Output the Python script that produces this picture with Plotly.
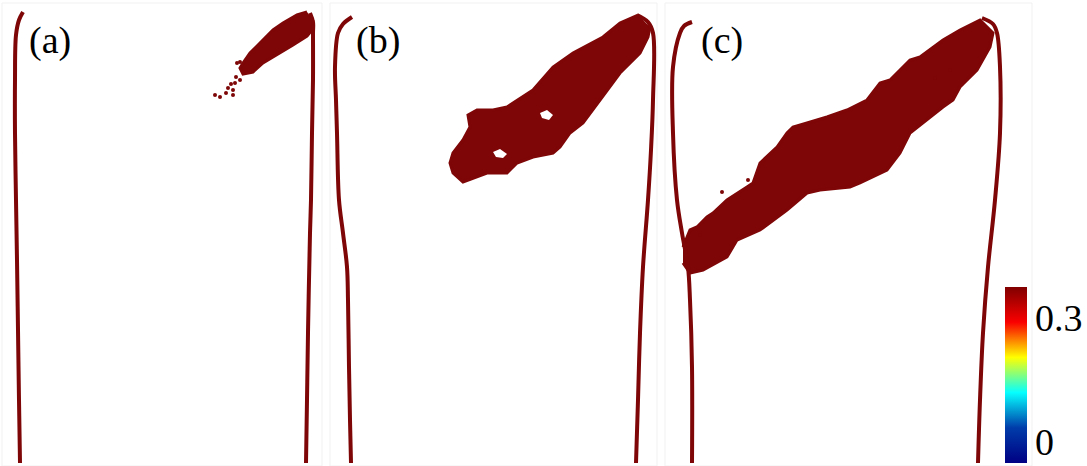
import plotly.graph_objects as go

W, H = 1087, 466
DARK = "#7e0606"

# ---- wall traces (pixel-space coordinates) ----
walls = {
    "a_left":  ([23, 19, 16, 15, 15, 16, 17, 18, 19, 20],
                [12, 20, 35, 80, 133, 200, 260, 330, 400, 463]),
    "a_right": ([310, 313, 313, 313, 312, 311, 310, 308, 307, 306],
                [13, 22, 33, 80, 133, 200, 233, 333, 400, 463]),
    "b_left":  ([352, 343, 338, 335, 336, 337, 339, 343, 347, 348, 349, 350, 351],
                [17, 24, 33, 67, 100, 133, 200, 233, 267, 300, 367, 420, 463]),
    "b_right": ([637, 648, 653, 653, 651, 648, 643, 640, 638, 636],
                [15, 22, 33, 100, 150, 200, 267, 333, 400, 463]),
    "c_left":  ([692, 684, 680, 673, 673, 677, 682, 688, 690, 692, 692],
                [22, 26, 33, 67, 133, 200, 233, 267, 300, 367, 463]),
    "c_right": ([982, 993, 997, 1000, 1000, 995, 988, 983, 980, 978],
                [18, 24, 33, 67, 133, 200, 267, 333, 400, 463]),
}

# ---- shear band outlines ----
band_a_x = [307, 297, 283, 273, 260, 250, 243, 240, 243, 253, 263, 277, 293, 307, 312, 313]
band_a_y = [12, 15, 23, 30, 43, 53, 63, 68, 74, 72, 63, 55, 45, 36, 30, 20]
dots_a_x = [215, 220, 233, 233, 235, 240, 236, 237, 240, 228, 226, 231]
dots_a_y = [95, 97, 90, 95, 83, 80, 77, 63, 62, 88, 93, 84]

band_b_x = [638, 620, 603, 573, 553, 533, 507, 493, 477, 468, 470, 463, 453, 450, 453,
            463, 487, 507, 517, 533, 553, 560, 570, 583, 600, 610, 620, 640, 648, 650]
band_b_y = [15, 23, 37, 53, 67, 90, 107, 110, 110, 115, 127, 140, 153, 163, 173,
            182, 173, 173, 163, 157, 153, 147, 133, 123, 100, 87, 73, 53, 37, 27]
hole_b1_x = [493, 500, 507, 503, 496]
hole_b1_y = [152, 149, 154, 158, 157]
hole_b2_x = [540, 547, 553, 549, 542]
hole_b2_y = [113, 110, 115, 120, 118]

band_c_x = [683, 690, 697, 707, 713, 727, 747, 753, 760, 777, 787, 793, 807, 827, 847, 867,
            880, 890, 910, 920, 943, 960, 980,
            993, 990, 977, 960, 953, 943, 927, 910, 900, 887, 860, 850, 820, 807, 787,
            760, 737, 727, 703, 690, 683]
band_c_y = [247, 230, 227, 217, 213, 200, 187, 183, 163, 147, 133, 127, 123, 117, 110, 100,
            83, 80, 60, 57, 40, 30, 20,
            33, 47, 70, 87, 100, 107, 120, 133, 153, 170, 183, 187, 190, 193, 210,
            230, 240, 257, 270, 273, 263]
dots_c_x = [722, 700, 935, 950, 748]
dots_c_y = [192, 235, 78, 70, 180]

panel_labels = ["(a)", "(b)", "(c)"]
label_x = [50, 378, 722]
label_y = [40, 40, 40]

cbar_ticks = [0, 0.3]
cbar_ticktext = ["0", "0.3"]
cbar_min, cbar_max = -0.052, 0.375

fig = go.Figure()

# faint panel frames
frames_x0 = [2, 330, 665]
frames_x1 = [322, 657, 1032]
for x0, x1 in zip(frames_x0, frames_x1):
    fig.add_shape(type="rect", x0=x0, x1=x1, y0=3, y1=466,
                  line=dict(color="#f1f1f1", width=1), layer="below")

for xs, ys in [(band_a_x, band_a_y), (band_b_x, band_b_y), (band_c_x, band_c_y)]:
    fig.add_trace(go.Scatter(x=xs, y=ys, fill="toself", mode="lines",
                             fillcolor=DARK, line=dict(color=DARK, width=3),
                             hoverinfo="skip", showlegend=False))
for xs, ys in [(hole_b1_x, hole_b1_y), (hole_b2_x, hole_b2_y)]:
    fig.add_trace(go.Scatter(x=xs, y=ys, fill="toself", mode="lines",
                             fillcolor="white", line=dict(color="white", width=0),
                             hoverinfo="skip", showlegend=False))
for xs, ys in [(dots_a_x, dots_a_y), (dots_c_x, dots_c_y)]:
    fig.add_trace(go.Scatter(x=xs, y=ys, mode="markers",
                             marker=dict(color=DARK, size=4),
                             hoverinfo="skip", showlegend=False))

for name, (xs, ys) in walls.items():
    fig.add_trace(go.Scatter(x=xs, y=ys, mode="lines",
                             line=dict(color=DARK, width=4, shape="spline"),
                             hoverinfo="skip", showlegend=False))

for t, x, y in zip(panel_labels, label_x, label_y):
    fig.add_annotation(x=x, y=y, text=t, showarrow=False,
                       font=dict(family="Liberation Serif", size=38, color="black"),
                       xanchor="center", yanchor="middle")

# colorbar carrier trace
fig.add_trace(go.Scatter(
    x=[-500], y=[-500], mode="markers", hoverinfo="skip", showlegend=False,
    marker=dict(color=[0], colorscale="Jet", cmin=cbar_min, cmax=cbar_max, size=1,
                showscale=True,
                colorbar=dict(x=1005 / W, xanchor="left", y=1 - 375 / H, yanchor="middle",
                              thickness=22, thicknessmode="pixels",
                              len=176, lenmode="pixels", outlinewidth=0,
                              tickvals=cbar_ticks, ticktext=cbar_ticktext, ticks="",
                              ticklabeloverflow="allow",
                              xpad=0, ypad=0,
                              tickfont=dict(family="Liberation Serif", size=38, color="black")))))

fig.update_layout(
    width=W, height=H, margin=dict(l=0, r=0, t=0, b=0),
    paper_bgcolor="white", plot_bgcolor="white",
    xaxis=dict(range=[0, W], visible=False, fixedrange=True),
    yaxis=dict(range=[H, 0], visible=False, fixedrange=True),
)
fig.write_html("out.html")
